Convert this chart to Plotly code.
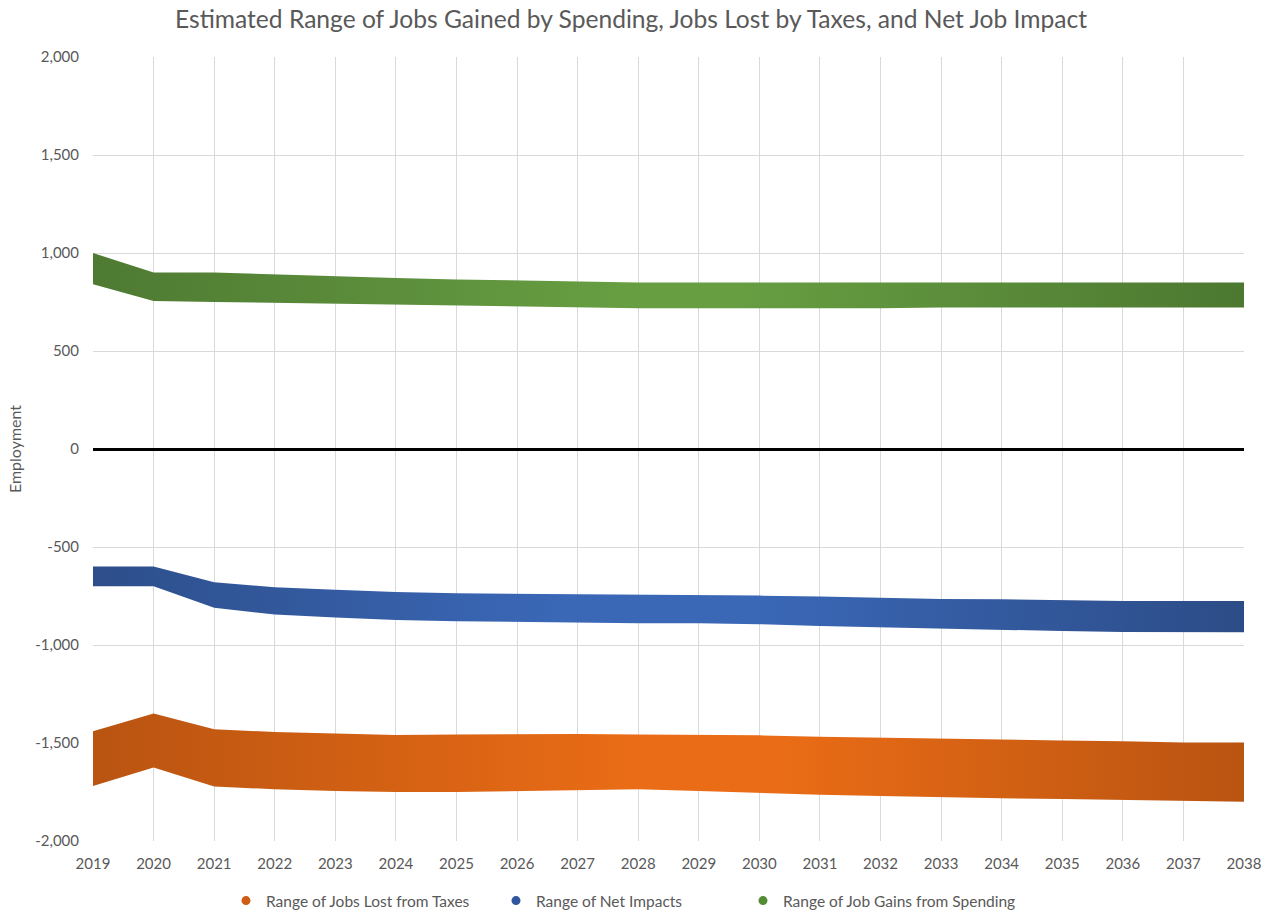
import plotly.graph_objects as go

years = list(range(2019, 2039))

# Jobs gained from spending (upper / lower bound of range)
gain_high = [1000, 900, 900, 890, 880, 872, 865, 860, 855, 850, 850, 850, 850, 850, 850, 850, 850, 850, 850, 850]
gain_low = [840, 755, 750, 745, 740, 735, 730, 725, 720, 718, 718, 718, 718, 718, 722, 722, 722, 722, 722, 722]

# Net impacts
net_high = [-600, -600, -680, -705, -718, -730, -736, -738, -740, -742, -745, -748, -753, -760, -765, -767, -772, -776, -776, -776]
net_low = [-700, -700, -810, -845, -860, -872, -879, -883, -886, -889, -889, -894, -903, -910, -917, -922, -929, -934, -935, -935]

# Jobs lost from taxes
tax_high = [-1440, -1350, -1430, -1444, -1452, -1459, -1457, -1454, -1454, -1456, -1457, -1461, -1468, -1473, -1480, -1485, -1487, -1491, -1497, -1497]
tax_low = [-1720, -1625, -1722, -1736, -1745, -1750, -1750, -1745, -1743, -1736, -1745, -1755, -1764, -1770, -1777, -1782, -1786, -1791, -1796, -1800]

y_ticks = [-2000, -1500, -1000, -500, 0, 500, 1000, 1500, 2000]
y_tick_labels = ["-2,000", "-1,500", "-1,000", "-500", "0", "500", "1,000", "1,500", "2,000"]

# name, low, high, gradient stops, legend colour, legend text x (px)
series = [
    ("Range of Jobs Lost from Taxes", tax_low, tax_high,
     [[0, "rgb(185,84,17)"], [0.47, "rgb(234,108,22)"], [0.6, "rgb(234,108,22)"], [1, "rgb(185,84,17)"]],
     "rgb(205,92,20)", 226),
    ("Range of Net Impacts", net_low, net_high,
     [[0, "rgb(45,78,138)"], [0.4, "rgb(58,103,182)"], [0.58, "rgb(58,103,182)"], [1, "rgb(44,76,135)"]],
     "rgb(48,86,158)", 496),
    ("Range of Job Gains from Spending", gain_low, gain_high,
     [[0, "rgb(78,122,50)"], [0.46, "rgb(103,158,66)"], [0.56, "rgb(103,158,66)"], [1, "rgb(76,120,48)"]],
     "rgb(84,140,52)", 743),
]

TEXT = "#595959"
FONT = "Lato"

L, R, T, B = 93, 18, 57, 70
W, H = 1262, 911
plot_w = W - L - R
plot_h = H - T - B

fig = go.Figure()

legend_ids = ["legend", "legend2", "legend3"]
legend_layout = {}
for (name, lo, hi, scale, c_leg, lx), lid in zip(series, legend_ids):
    fig.add_trace(go.Scatter(
        x=years, y=lo, mode="lines", line=dict(width=0, color=scale[0][1]),
        showlegend=False, hoverinfo="skip"))
    fig.add_trace(go.Scatter(
        x=years, y=hi, mode="lines", line=dict(width=0, color=scale[0][1]),
        fill="tonexty",
        fillgradient=dict(type="horizontal", colorscale=scale),
        showlegend=False, hoverinfo="skip"))
    # legend entry
    fig.add_trace(go.Scatter(
        x=[None], y=[None], mode="markers", name=name,
        marker=dict(symbol="circle", size=9, color=c_leg),
        showlegend=True, legend=lid))
    legend_layout[lid] = dict(
        orientation="h", xanchor="left", x=(lx - L) / plot_w,
        yanchor="middle", y=(H - B - 901) / plot_h,
        font=dict(family=FONT, size=15.5, color=TEXT),
        bgcolor="rgba(0,0,0,0)", itemwidth=30)

fig.update_layout(
    width=W, height=H,
    margin=dict(l=L, r=R, t=T, b=B, autoexpand=False),
    paper_bgcolor="white", plot_bgcolor="white",
    title=dict(text="Estimated Range of Jobs Gained by Spending, Jobs Lost by Taxes, and Net Job Impact",
               x=(631 - 0) / W, xanchor="center", xref="paper", y=(H - 19) / H, yanchor="middle",
               font=dict(family=FONT, size=24.6, color=TEXT)),
    xaxis=dict(range=[2019, 2038], dtick=1, tick0=2019, showgrid=True,
               gridcolor="#d9d9d9", gridwidth=1, zeroline=False, showline=False,
               ticks="", ticklabelstandoff=12, automargin=False,
               tickfont=dict(family=FONT, size=15, color=TEXT)),
    yaxis=dict(range=[-2000, 2000], tickvals=y_ticks, ticktext=y_tick_labels,
               showgrid=True, gridcolor="#d9d9d9", gridwidth=1,
               zeroline=True, zerolinecolor="black", zerolinewidth=3,
               showline=False, ticks="", ticklabelstandoff=13, automargin=False,
               tickfont=dict(family=FONT, size=15, color=TEXT),
               title=dict(text="Employment", standoff=9,
                          font=dict(family=FONT, size=16, color=TEXT))),
    **legend_layout,
)

fig.update_layout(title_xref="container", title_x=631 / W)

fig.write_html("out.html")
